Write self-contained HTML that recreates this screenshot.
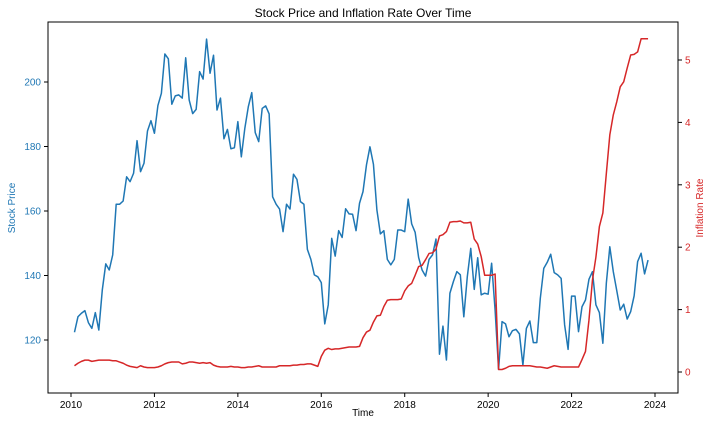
<!DOCTYPE html>
<html><head><meta charset="utf-8"><style>
html,body{margin:0;padding:0;background:#fff;}
svg{display:block;font-family:"Liberation Sans","DejaVu Sans",sans-serif;}
</style></head><body>
<svg id="chart" width="712" height="424" viewBox="0 0 712 424">
<rect x="0" y="0" width="712" height="424" fill="#fff"/>
<text x="363" y="17" text-anchor="middle" font-size="12" fill="#000">Stock Price and Inflation Rate Over Time</text>
<text x="363" y="416" text-anchor="middle" font-size="10" fill="#000">Time</text>
<text transform="translate(15,208) rotate(-90)" text-anchor="middle" font-size="10" fill="#1f77b4">Stock Price</text>
<text transform="translate(703,208) rotate(-90)" text-anchor="middle" font-size="10" fill="#d62728">Inflation Rate</text>
<g id="marks"></g>
<rect x="48" y="22" width="630" height="371" fill="none" stroke="#000" stroke-width="1"/>
</svg>
<script>
const startYear = 2010;
const startMonth = 1;
const xTicks = [2010, 2012, 2014, 2016, 2018, 2020, 2022, 2024];
const leftTicks = [120, 140, 160, 180, 200];
const rightTicks = [0, 1, 2, 3, 4, 5];
const stockPrice = [122.4,127.2,128.3,129.1,125.4,123.6,128.5,123.1,135.5,143.6,141.7,146.4,162.1,162.1,163.1,170.6,169.1,171.7,181.8,172.2,174.8,184.8,188.0,184.1,192.7,196.5,208.7,207.2,193.1,195.7,196.0,195.0,207.5,194.4,190.2,191.5,203.2,200.9,213.3,202.7,208.3,191.3,195.0,182.4,185.3,179.3,179.6,187.7,176.8,185.6,192.3,196.7,184.3,181.5,
191.8,192.6,190.1,164.4,162.1,160.6,153.6,162.1,160.6,171.4,169.8,162.9,162.1,148.1,145.0,140.2,139.6,137.8,125.0,130.9,151.5,146.0,153.9,151.8,160.7,159.1,159.0,153.9,162.4,166.0,174.3,179.9,174.5,160.3,152.9,153.9,145.0,143.3,145.0,154.1,154.1,153.6,163.7,156.0,153.4,145.6,141.7,139.8,145.0,146.4,151.3,
115.6,124.3,113.8,134.5,138.1,141.2,140.2,127.2,139.6,148.4,135.7,145.5,134.0,134.5,134.2,143.8,129.3,110.9,125.7,125.0,121.0,122.9,123.3,121.9,112.2,123.6,125.9,119.2,119.2,132.9,142.2,144.1,146.6,140.9,140.2,139.1,124.7,117.1,133.6,133.6,122.6,130.3,132.4,138.8,141.2,130.9,128.5,119.0,137.6,148.9,141.2,135.3,129.3,131.1,126.5,128.8,133.7,144.3,146.9,140.5,144.8];
const inflationRate = [0.10,0.14,0.17,0.19,0.19,0.17,0.18,0.19,0.19,0.19,0.19,0.18,0.18,0.16,0.14,0.11,0.09,0.08,0.07,0.10,0.08,0.07,0.07,0.07,0.08,0.10,0.13,0.15,0.16,0.16,0.16,0.13,0.14,0.16,0.16,0.15,0.14,0.15,0.14,0.15,0.11,0.09,0.08,0.08,0.08,0.09,0.08,0.08,0.07,0.07,0.08,0.08,0.09,0.10,
0.08,0.08,0.08,0.08,0.08,0.10,0.10,0.10,0.10,0.11,0.11,0.12,0.12,0.13,0.13,0.11,0.09,0.25,0.35,0.38,0.36,0.37,0.37,0.38,0.39,0.40,0.40,0.40,0.41,0.55,0.64,0.67,0.80,0.90,0.91,1.05,1.15,1.16,1.16,1.16,1.17,1.30,1.38,1.42,1.55,1.69,1.71,1.80,1.90,1.91,1.97,
2.18,2.20,2.25,2.40,2.41,2.41,2.42,2.39,2.39,2.40,2.13,2.05,1.85,1.55,1.55,1.55,1.57,0.04,0.04,0.06,0.09,0.10,0.10,0.10,0.10,0.10,0.10,0.09,0.08,0.08,0.07,0.06,0.08,0.10,0.09,0.08,0.08,0.08,0.08,0.08,0.08,0.20,0.33,0.83,1.47,1.84,2.33,2.55,3.18,3.80,4.12,4.33,4.57,4.65,4.87,5.08,5.09,5.13,5.34,5.34,5.34];

const NS = "http://www.w3.org/2000/svg";
const marks = document.getElementById('marks');
function xScale(yr){ return 71 + (yr - 2010) * (655 - 71) / 14; }
function yLeft(v){ return 340 + (v - 120) * (82 - 340) / 80; }
function yRight(v){ return 372 + v * (60 - 372) / 5; }
function dateOf(i){ return startYear + (startMonth + i) / 12; }
function mk(tag, attrs){ const e = document.createElementNS(NS, tag); for (const k in attrs) e.setAttribute(k, attrs[k]); marks.appendChild(e); return e; }

xTicks.forEach(t => {
  const x = xScale(t);
  const l = mk('line', {x1:x, x2:x, y1:393, y2:397, stroke:'#000'});
  
  
  const tx = mk('text', {x:x, y:408, 'text-anchor':'middle', 'font-size':10, fill:'#000'});
  tx.textContent = t;
  
  
});
leftTicks.forEach(t => {
  const y = yLeft(t);
  const l = mk('line', {x1:44, x2:48, y1:y, y2:y, stroke:'#000'});
  
  
  const tx = mk('text', {x:41, y:y + 3.5, 'text-anchor':'end', 'font-size':10, fill:'#1f77b4'});
  tx.textContent = t;
  
  
});
rightTicks.forEach(t => {
  const y = yRight(t);
  const l = mk('line', {x1:678, x2:682, y1:y, y2:y, stroke:'#000'});
  
  
  const tx = mk('text', {x:685, y:y + 3.5, 'text-anchor':'start', 'font-size':10, fill:'#d62728'});
  tx.textContent = t;
  
  
});

const sp = stockPrice.map((v, i) => xScale(dateOf(i)).toFixed(2) + ',' + yLeft(v).toFixed(2)).join(' ');
const stockLine = mk('polyline', {points:sp, fill:'none', stroke:'#1f77b4', 'stroke-width':1.5, 'stroke-linejoin':'round'});



const ip = inflationRate.map((v, i) => xScale(dateOf(i)).toFixed(2) + ',' + yRight(v).toFixed(2)).join(' ');
const inflLine = mk('polyline', {points:ip, fill:'none', stroke:'#d62728', 'stroke-width':1.5, 'stroke-linejoin':'round'});


</script>
</body></html>
